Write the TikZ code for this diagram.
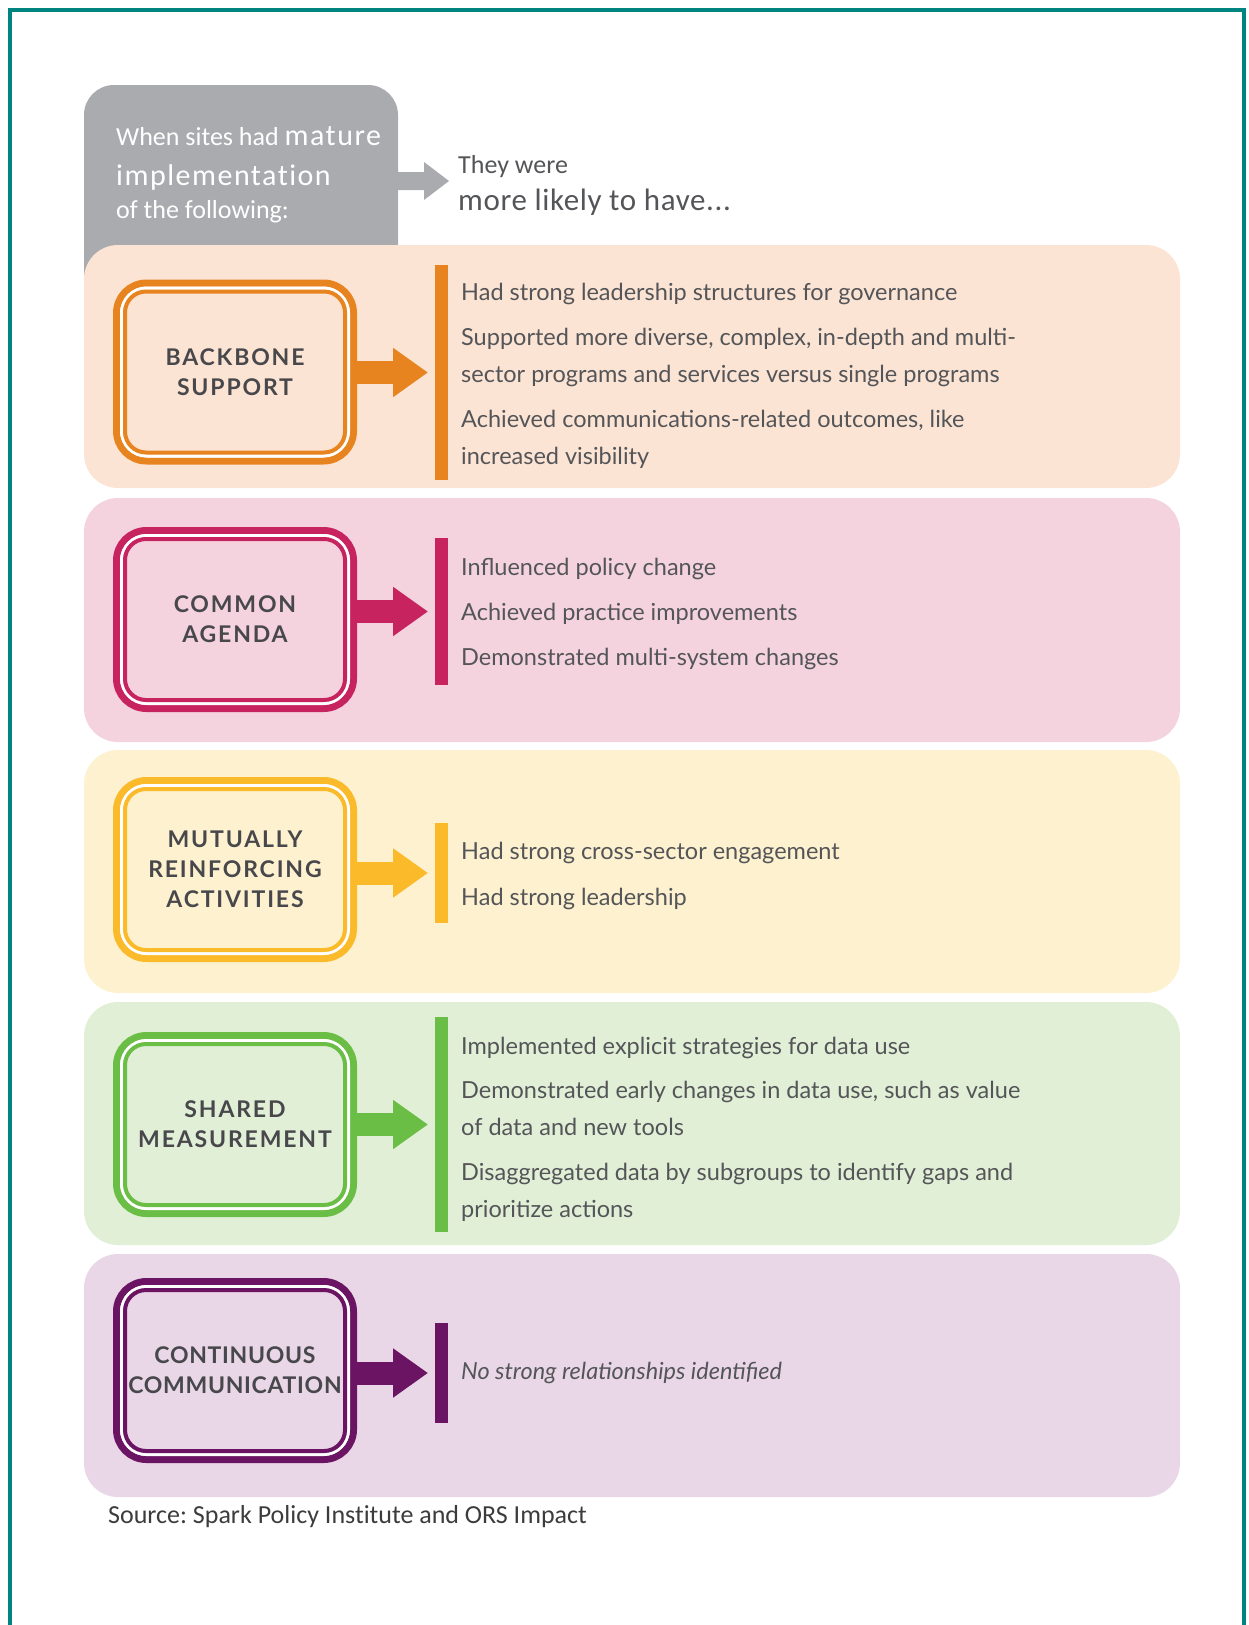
\documentclass[tikz,border=0pt]{standalone}
\usepackage{fontspec}
\setmainfont{Lato}
\newfontfamily\calib{Carlito}[Ligatures=NoCommon]
\usetikzlibrary{arrows.meta,calc}
\frenchspacing

\definecolor{frameteal}{RGB}{0,132,127}
\definecolor{headgray}{RGB}{169,171,174}
\definecolor{txtgray}{RGB}{84,85,88}
\definecolor{lblgray}{RGB}{72,72,76}
\definecolor{srcgray}{RGB}{60,60,60}
\definecolor{bbline}{RGB}{232,132,31}
\definecolor{bbfill}{RGB}{252,228,212}
\definecolor{caline}{RGB}{199,36,95}
\definecolor{cafill}{RGB}{244,211,222}
\definecolor{mrline}{RGB}{251,186,42}
\definecolor{mrfill}{RGB}{253,241,207}
\definecolor{smline}{RGB}{107,190,69}
\definecolor{smfill}{RGB}{226,239,215}
\definecolor{ccline}{RGB}{107,20,99}
\definecolor{ccfill}{RGB}{233,215,231}

\newcommand{\catfont}{\fontsize{23}{30}\selectfont\bfseries\addfontfeature{LetterSpace=8}}
\newcommand{\catfontnarrow}{\fontsize{23}{30}\selectfont\bfseries\addfontfeature{LetterSpace=3}}
\newcommand{\itemfont}{\fontsize{23.5}{37}\selectfont}
\newcommand{\hdbig}{\fontsize{30}{30}\selectfont\addfontfeature{LetterSpace=5}}
% white gap and inner line of a category box
\newcommand{\catrings}[2]{%
  \draw [white, line width=3pt, rounded corners=25pt] ($(#1.north west)+(5,5)$) rectangle ($(#1.south east)+(-5,-5)$);
  \draw [#2, line width=4pt, rounded corners=21pt] ($(#1.north west)+(8.5,8.5)$) rectangle ($(#1.south east)+(-8.5,-8.5)$);}

\tikzset{
  panel/.style={fill=#1, rounded corners=34pt},
  catbox/.style 2 args={draw=#2, fill=#1, line width=7pt, rounded corners=30pt, outer sep=0pt, inner sep=0pt,
    minimum width=237pt, minimum height=178pt, align=center, text=lblgray, font=\catfont},
  resbar/.style={fill=#1, inner sep=0pt, outer sep=0pt, minimum width=13pt},
  resarrow/.style={draw=#1, line width=23pt, -{Triangle[length=35pt,width=47pt]}, shorten >=7pt},
  itemtext/.style={anchor=base west, inner sep=0pt, align=left, text=txtgray, font=\itemfont},
}

\begin{document}
\begin{tikzpicture}[x=1pt,y=1pt,yscale=-1,xscale=1]
\useasboundingbox (0,0) rectangle (1248,1625);

%Frame
\draw [frameteal, line width=4pt] (10,1630) -- (10,9.5) -- (1244,9.5) -- (1244,1630);

%Shape: gray tab
\fill [headgray, rounded corners=30pt] (84,330) -- (84,85) -- (398,85) -- (398,330) -- cycle;
%Arrow: gray tab to result heading
\coordinate (tabedge) at (397,181);
\coordinate (tabtip) at (449,181);
\fill [headgray] (tabedge) ++(0,-9) -- ++(27,0) -- ++(0,-10) -- (tabtip) -- ($(tabedge)+(27,19)$) -- ++(0,-10) -- ++(-27,0) -- cycle;

% Text Node
\node [anchor=base west, inner sep=0pt, text=white, font=\calib\fontsize{26}{26}\selectfont] (hdA) at (116,145) {When sites had {\hdbig mature}};
\node [anchor=base west, inner sep=0pt, text=white, font=\calib\hdbig] (hdB) at (116,185) {implementation};
\node [anchor=base west, inner sep=0pt, text=white, font=\calib\fontsize{26}{26}\selectfont] (hdC) at (116,218) {of the following:};
\node [anchor=base west, inner sep=0pt, text=txtgray, font=\calib\fontsize{26}{26}\selectfont] (thA) at (458,173) {They were};
\node [anchor=base west, inner sep=0pt, text=txtgray, font=\calib\fontsize{31}{31}\selectfont\addfontfeature{LetterSpace=2}] (thB) at (458,210) {more likely to have...};

%Shape: panels
\fill [panel=bbfill] (84,245) rectangle (1180,488);
\fill [panel=cafill] (84,498) rectangle (1180,742);
\fill [panel=mrfill] (84,750) rectangle (1180,993);
\fill [panel=smfill] (84,1002) rectangle (1180,1245);
\fill [panel=ccfill] (84,1254) rectangle (1180,1497);

%Backbone support
\node [catbox={bbfill}{bbline}] (bbbox) at (235,372) {BACKBONE\\SUPPORT};
\catrings{bbbox}{bbline}
\node [resbar=bbline, minimum height=215pt] (bbbar) at (441.5,372.5) {};
\draw [resarrow=bbline] (bbbox.east |- bbbar.west) -- (bbbar.west);
\node [itemtext] (bbA) at (461,300) {Had strong leadership structures for governance};
\node [itemtext] (bbB) at (461,382) {Supported more diverse, complex, in-depth and multi-\\sector programs and services versus single programs};
\node [itemtext] (bbC) at (461,464) {Achieved communications-related outcomes, like\\increased visibility};

%Common agenda
\node [catbox={cafill}{caline}] (cabox) at (235,619.5) {COMMON\\AGENDA};
\catrings{cabox}{caline}
\node [resbar=caline, minimum height=147pt] (cabar) at (441.5,611.5) {};
\draw [resarrow=caline] (cabox.east |- cabar.west) -- (cabar.west);
\node [itemtext] (caA) at (461,575) {Influenced policy change};
\node [itemtext] (caB) at (461,620) {Achieved practice improvements};
\node [itemtext] (caC) at (461,665) {Demonstrated multi-system changes};

%Mutually reinforcing activities
\node [catbox={mrfill}{mrline}] (mrbox) at (235,869.5) {MUTUALLY\\REINFORCING\\ACTIVITIES};
\catrings{mrbox}{mrline}
\node [resbar=mrline, minimum height=100pt] (mrbar) at (441.5,873) {};
\draw [resarrow=mrline] (mrbox.east |- mrbar.west) -- (mrbar.west);
\node [itemtext] (mrA) at (461,859) {Had strong cross-sector engagement};
\node [itemtext] (mrB) at (461,905) {Had strong leadership};

%Shared measurement
\node [catbox={smfill}{smline}] (smbox) at (235,1124.5) {SHARED\\MEASUREMENT};
\catrings{smbox}{smline}
\node [resbar=smline, minimum height=215pt] (smbar) at (441.5,1124.5) {};
\draw [resarrow=smline] (smbox.east |- smbar.west) -- (smbar.west);
\node [itemtext] (smA) at (461,1054) {Implemented explicit strategies for data use};
\node [itemtext] (smB) at (461,1135) {Demonstrated early changes in data use, such as value\\of data and new tools};
\node [itemtext] (smC) at (461,1217) {Disaggregated data by subgroups to identify gaps and\\prioritize actions};

%Continuous communication
\node [catbox={ccfill}{ccline}, font=\catfontnarrow] (ccbox) at (235,1370.5) {CONTINUOUS\\COMMUNICATION};
\catrings{ccbox}{ccline}
\node [resbar=ccline, minimum height=100pt] (ccbar) at (441.5,1373) {};
\draw [resarrow=ccline] (ccbox.east |- ccbar.west) -- (ccbar.west);
\node [itemtext, font=\itemfont\itshape] (ccA) at (461,1379) {No strong relationships identified};

% Text Node
\node [anchor=base west, inner sep=0pt, text=srcgray, font=\calib\fontsize{26}{26}\selectfont] (src) at (108,1523) {Source: Spark Policy Institute and ORS Impact};

\end{tikzpicture}
\end{document}
